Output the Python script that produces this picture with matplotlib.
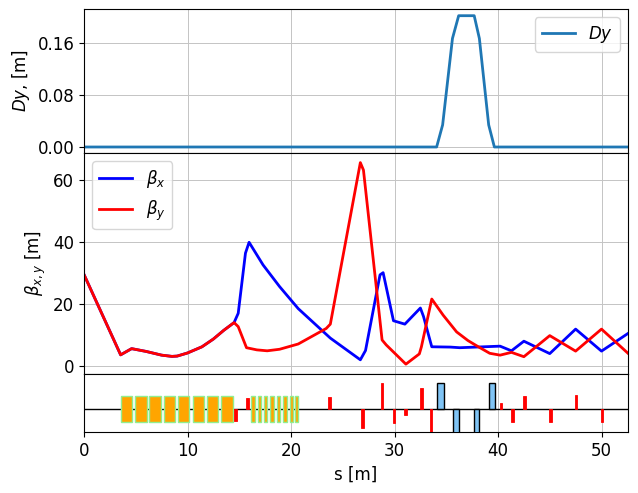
import matplotlib
matplotlib.use("Agg")
import matplotlib.pyplot as plt
from matplotlib.patches import Rectangle

# Dispersion along the beamline
s_dy = [0, 34.07, 34.65, 35.6, 36.2, 37.7, 38.2, 39.1, 39.65, 52.56]
dy = [0, 0, 0.034, 0.167, 0.202, 0.202, 0.167, 0.034, 0, 0]

# Beta functions
s_bx = [0, 3.54, 4.6, 6, 7.5, 8.5, 9, 10, 11.4, 12.5, 13.5, 14.5, 14.9, 15.6, 15.95, 17.3, 18.9,
        20.7, 23.8, 26.7, 27.2, 28.6, 28.9, 29.9, 31, 32.5, 32.8, 33.6, 35.4, 36.3, 40.2,
        41.3, 42.5, 45, 47.5, 50, 52.56]
beta_x = [29.5, 3.6, 5.6, 4.7, 3.5, 3.1, 3.2, 4.2, 6.2, 8.7, 11.5, 14.0, 17.0, 36.4, 39.9, 32.6, 25.6,
          18.5, 9, 2.0, 5, 29.4, 30.1, 14.6, 13.5, 18.7, 16, 6.2, 6.1, 5.9, 6.4,
          4.9, 8, 4, 11.9, 4.8, 10.5]
s_by = [0, 3.54, 4.6, 6, 7.5, 8.5, 9, 10, 11.4, 12.5, 13.5, 14.5, 14.9, 15.7, 16.7, 17.7, 18.9,
        20.7, 23.4, 23.8, 26.7, 27, 28.8, 29.2, 31.1, 32.4, 32.6, 33.6, 34.7, 36, 37.1, 38.1, 39.2,
        40.2, 41.3, 42.5, 45, 47.5, 50, 52.56]
beta_y = [29.5, 3.6, 5.6, 4.7, 3.5, 3.1, 3.2, 4.2, 6.2, 8.7, 11.5, 14.0, 12.7, 5.9, 5.2, 4.9, 5.4,
          7.1, 12.1, 13.5, 65.6, 63.2, 8.4, 6.8, 0.6, 3.9, 6.2, 21.6, 16.4, 11, 8.2, 6.2, 4.1,
          3.5, 4.4, 3, 9.8, 4.8, 11.9, 4.1]

# Lattice elements: start, end, strength
undulator_a = [(3.6, 4.6), (4.96, 6.05), (6.31, 7.41), (7.76, 8.79),
               (9.11, 10.17), (10.5, 11.6), (11.92, 12.92), (13.27, 14.37)]
undulator_b = [(16.14, 16.52), (16.75, 17.17), (17.33, 17.75), (17.97, 18.36),
               (18.58, 19.0), (19.16, 19.6), (19.84, 20.2), (20.39, 20.74)]
quad_s = [14.65, 15.8, 23.74, 26.9, 28.8, 29.95, 31.05, 32.6, 33.55, 40.3, 41.4, 42.55, 45.05, 47.55, 50.07]
quad_k = [-0.45, 0.42, 0.46, -0.74, 1.0, -0.55, -0.25, 0.8, -1.0, 0.23, -0.49, 0.5, -0.51, 0.54, -0.51]
bend_start = [34.14, 35.68, 37.7, 39.16]
bend_end = [34.75, 36.2, 38.2, 39.68]
bend_k = [1.0, -1.0, -1.0, 1.0]

S_MAX = 52.56
W, H = 638, 493
TICKS = [0, 10, 20, 30, 40, 50]
plt.rcParams["font.size"] = 12
plt.rcParams["grid.color"] = "#c4c4c4"
plt.rcParams["grid.linewidth"] = 0.7


def axes_px(left, top, right, bottom):
    return [left / W, 1 - bottom / H, (right - left) / W, (bottom - top) / H]


fig = plt.figure(figsize=(W / 100, H / 100), dpi=100)
ax_d = fig.add_axes(axes_px(84, 9, 628, 153))
ax_b = fig.add_axes(axes_px(84, 153, 628, 374))
ax_e = fig.add_axes(axes_px(84, 374, 628, 432))

ax_d.plot(s_dy, dy, color="C0", lw=2, label=r"$Dy$")
ax_d.set_xlim(0, S_MAX)
ax_d.set_ylim(-0.00923, 0.2123)
ax_d.set_yticks([0, 0.08, 0.16])
ax_d.set_yticklabels(["0.00", "0.08", "0.16"])
ax_d.set_ylabel(r"$Dy$, [m]")
ax_d.set_xticks(TICKS)
ax_d.tick_params(axis="x", length=0, labelbottom=False)
ax_d.grid(True)
ax_d.legend(loc="upper right", fontsize=12)

ax_b.plot(s_bx, beta_x, color="blue", lw=2, label=r"$\beta_x$")
ax_b.plot(s_by, beta_y, color="red", lw=2, label=r"$\beta_y$")
ax_b.set_xlim(0, S_MAX)
ax_b.set_ylim(-2.58, 68.7)
ax_b.set_yticks([0, 20, 40, 60])
ax_b.set_ylabel(r"$\beta_{x,y}$ [m]")
ax_b.set_xticks(TICKS)
ax_b.tick_params(axis="x", length=0, labelbottom=False)
ax_b.grid(True)
ax_b.legend(loc="upper left", fontsize=12)

ax_e.set_xlim(0, S_MAX)
ax_e.set_ylim(-0.885, 1.346)
ax_e.set_yticks([])
ax_e.set_xticks(TICKS)
ax_e.set_xlabel("s [m]")
ax_e.grid(True, axis="x")
ax_e.axhline(0, color="black", lw=1, zorder=2)

for x0, x1 in undulator_a:
    ax_e.add_patch(Rectangle((x0, -0.49), x1 - x0, 0.98, facecolor="orange",
                             edgecolor="lightgreen", lw=1, zorder=3))
for x0, x1 in undulator_b:
    ax_e.add_patch(Rectangle((x0 + 0.03, -0.49), x1 - x0 - 0.06, 0.98, facecolor="orange",
                             edgecolor="lightgreen", lw=1, zorder=3))
for sq, k in zip(quad_s, quad_k):
    ax_e.add_patch(Rectangle((sq - 0.12, 0), 0.24, k, facecolor="red",
                             edgecolor="red", lw=0.6, zorder=3))
for x0, x1, k in zip(bend_start, bend_end, bend_k):
    ax_e.add_patch(Rectangle((x0, 0), x1 - x0, k, facecolor="#80c4f5",
                             edgecolor="black", lw=1, zorder=3))

fig.savefig("out.png", dpi=100)
